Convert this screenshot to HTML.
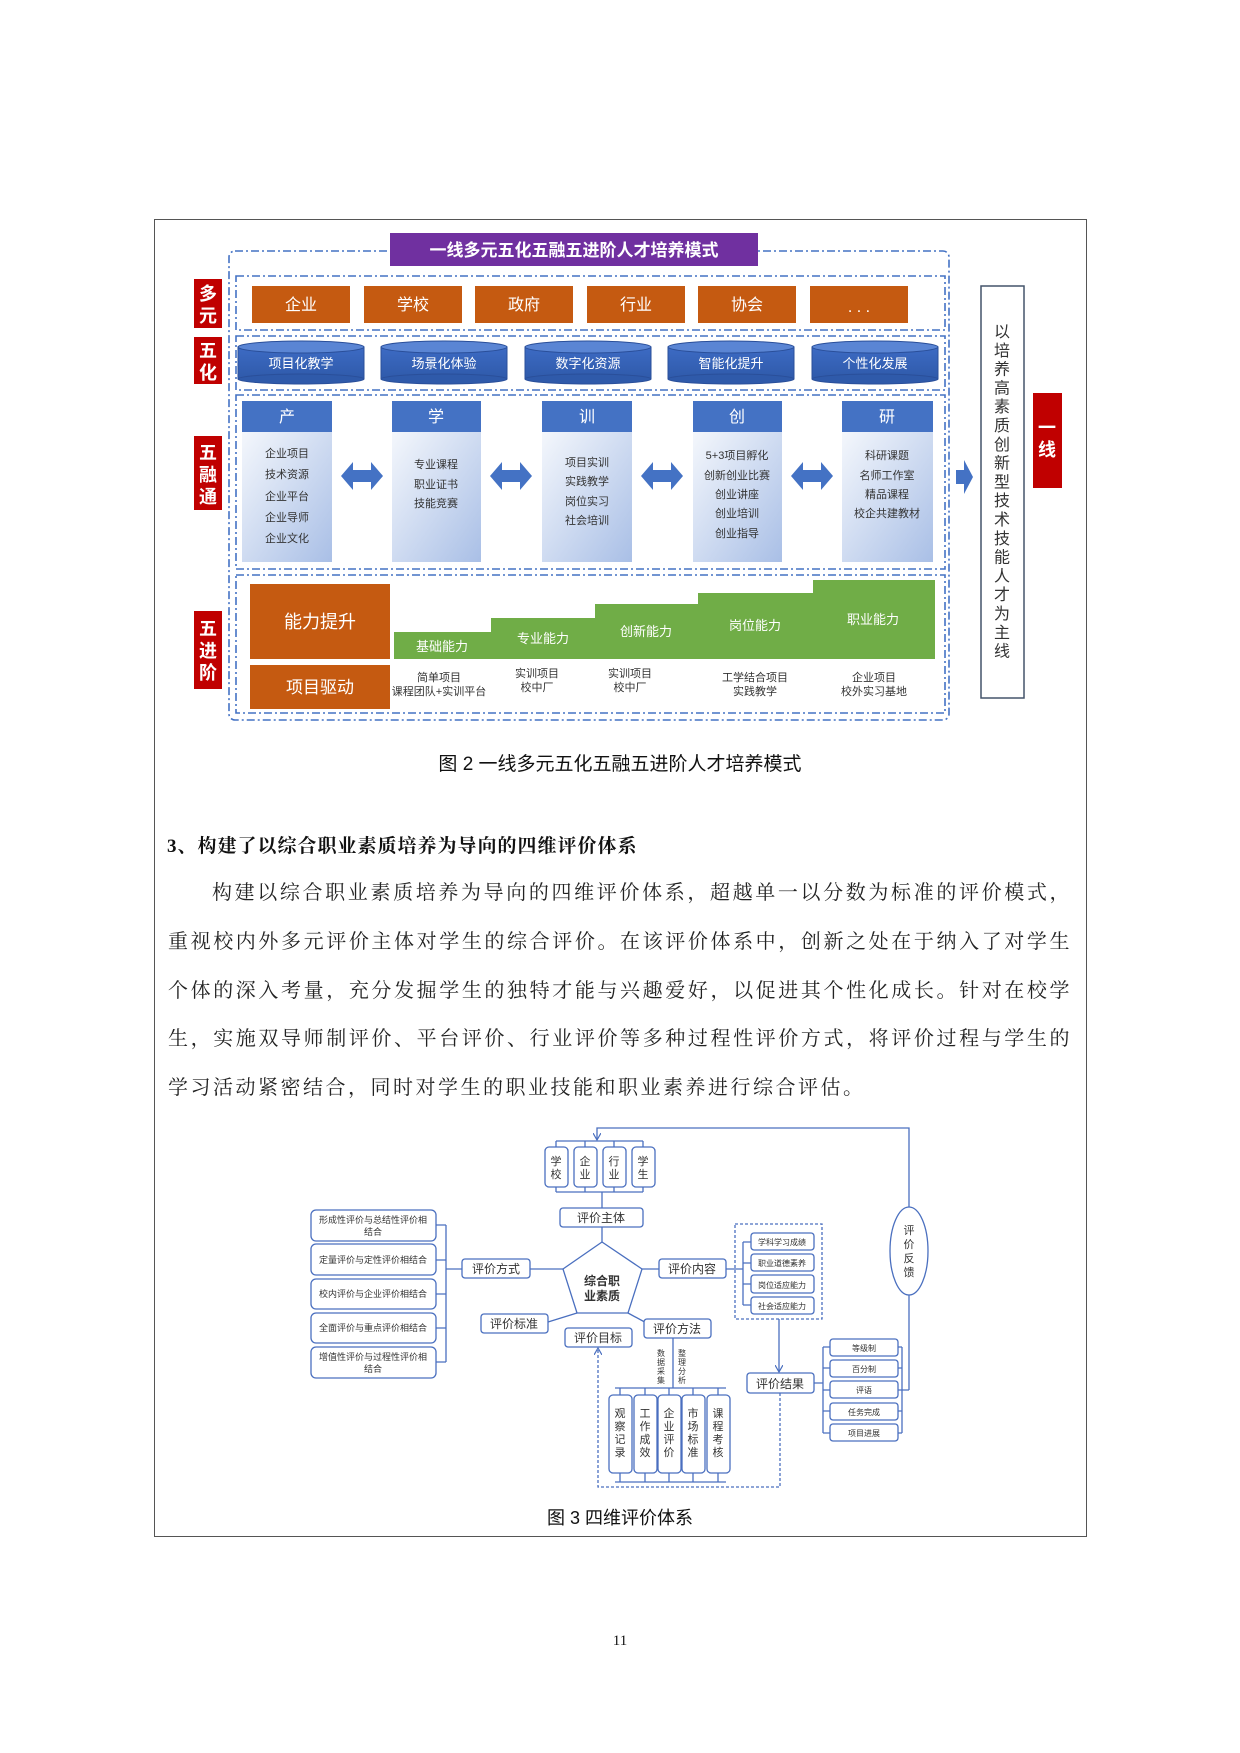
<!DOCTYPE html>
<html><head><meta charset="utf-8"><style>
html,body{margin:0;padding:0;background:#fff}
body{width:1240px;height:1753px;position:relative;overflow:hidden}
.ab{position:absolute}
.p{position:absolute;left:168px;width:904px;font-family:"Liberation Serif","Noto Serif CJK SC",serif;font-size:20px;color:#222;text-align:justify;text-align-last:justify;white-space:nowrap;line-height:24px}
svg text{font-family:"Liberation Sans","Noto Sans CJK SC",sans-serif}
</style></head><body>
<div class="ab" style="left:154px;top:219px;width:931px;height:1316px;border:1.5px solid #555"></div>

<svg class="ab" style="left:0;top:0" width="1240" height="1753" viewBox="0 0 1240 1753">
<defs>
<linearGradient id="cb" x1="0" y1="0" x2="1" y2="1"><stop offset="0" stop-color="#f4f7fc"/><stop offset="1" stop-color="#a9bfe6"/></linearGradient>
<linearGradient id="cy" x1="0" y1="0" x2="0" y2="1"><stop offset="0" stop-color="#3d6bc4"/><stop offset="1" stop-color="#2f5aaa"/></linearGradient>
<marker id="ar" markerWidth="8" markerHeight="8" refX="7" refY="4" orient="auto" markerUnits="userSpaceOnUse"><path d="M0,0 L7,4 L0,8" fill="none" stroke="#4a6fbf" stroke-width="1.2"/></marker>
</defs>
<!-- FIG 2 -->
<g fill="none" stroke="#4472c4" stroke-width="1.6" stroke-dasharray="8 3 2 3">
<rect x="229" y="251" width="720" height="469" rx="6"/>
<rect x="236" y="276" width="709" height="54"/>
<rect x="236" y="336" width="709" height="54"/>
<rect x="236" y="395" width="709" height="174"/>
<rect x="236" y="575" width="709" height="138"/>
</g>
<rect x="390" y="233" width="368" height="33" fill="#7030a0"/>
<text x="574" y="256" fill="#fff" font-size="17" font-weight="bold" text-anchor="middle">一线多元五化五融五进阶人才培养模式</text>
<g fill="#c00000">
<rect x="194" y="279" width="28" height="49"/><rect x="194" y="337" width="28" height="47"/>
<rect x="194" y="436" width="28" height="74"/><rect x="194" y="611" width="28" height="78"/>
<rect x="1033" y="393" width="29" height="95"/>
</g>
<g fill="#fff" font-size="18" font-weight="bold" text-anchor="middle">
<text x="208" y="300">多</text><text x="208" y="322">元</text>
<text x="208" y="357">五</text><text x="208" y="379">化</text>
<text x="208" y="459">五</text><text x="208" y="481">融</text><text x="208" y="503">通</text>
<text x="208" y="635">五</text><text x="208" y="657">进</text><text x="208" y="679">阶</text>
<text x="1047" y="434">一</text><text x="1047" y="456">线</text>
</g>
<g fill="#c55a11">
<rect x="252" y="286" width="98" height="37"/><rect x="364" y="286" width="98" height="37"/><rect x="475" y="286" width="98" height="37"/>
<rect x="587" y="286" width="98" height="37"/><rect x="698" y="286" width="98" height="37"/><rect x="810" y="286" width="98" height="37"/>
<rect x="250" y="584" width="140" height="75"/><rect x="250" y="665" width="140" height="44"/>
</g>
<g fill="#fff" font-size="16" text-anchor="middle">
<text x="301" y="310">企业</text><text x="413" y="310">学校</text><text x="524" y="310">政府</text><text x="636" y="310">行业</text><text x="747" y="310">协会</text><text x="859" y="312">. . .</text>
<text x="320" y="628" font-size="18">能力提升</text><text x="320" y="693" font-size="17">项目驱动</text>
</g>
<g stroke="#2a4f9a" stroke-width="1">
<g><rect x="238" y="347" width="126" height="32" fill="url(#cy)"/><ellipse cx="301" cy="379" rx="63" ry="5" fill="#2f5aaa"/><ellipse cx="301" cy="347" rx="63" ry="6" fill="#5a85d4"/></g>
<g><rect x="381" y="347" width="126" height="32" fill="url(#cy)"/><ellipse cx="444" cy="379" rx="63" ry="5" fill="#2f5aaa"/><ellipse cx="444" cy="347" rx="63" ry="6" fill="#5a85d4"/></g>
<g><rect x="525" y="347" width="126" height="32" fill="url(#cy)"/><ellipse cx="588" cy="379" rx="63" ry="5" fill="#2f5aaa"/><ellipse cx="588" cy="347" rx="63" ry="6" fill="#5a85d4"/></g>
<g><rect x="668" y="347" width="126" height="32" fill="url(#cy)"/><ellipse cx="731" cy="379" rx="63" ry="5" fill="#2f5aaa"/><ellipse cx="731" cy="347" rx="63" ry="6" fill="#5a85d4"/></g>
<g><rect x="812" y="347" width="126" height="32" fill="url(#cy)"/><ellipse cx="875" cy="379" rx="63" ry="5" fill="#2f5aaa"/><ellipse cx="875" cy="347" rx="63" ry="6" fill="#5a85d4"/></g>
</g>
<g fill="#fff" font-size="13" text-anchor="middle">
<text x="301" y="368">项目化教学</text><text x="444" y="368">场景化体验</text><text x="588" y="368">数字化资源</text><text x="731" y="368">智能化提升</text><text x="875" y="368">个性化发展</text>
</g>
<g>
<rect x="242" y="432" width="90" height="130" fill="url(#cb)"/><rect x="242" y="401" width="90" height="31" fill="#4472c4"/>
<rect x="392" y="432" width="89" height="130" fill="url(#cb)"/><rect x="392" y="401" width="89" height="31" fill="#4472c4"/>
<rect x="542" y="432" width="90" height="130" fill="url(#cb)"/><rect x="542" y="401" width="90" height="31" fill="#4472c4"/>
<rect x="693" y="432" width="89" height="130" fill="url(#cb)"/><rect x="693" y="401" width="89" height="31" fill="#4472c4"/>
<rect x="842" y="432" width="91" height="130" fill="url(#cb)"/><rect x="842" y="401" width="91" height="31" fill="#4472c4"/>
</g>
<g fill="#fff" font-size="16" text-anchor="middle">
<text x="287" y="422">产</text><text x="436" y="422">学</text><text x="587" y="422">训</text><text x="737" y="422">创</text><text x="887" y="422">研</text>
</g>
<g fill="#333" font-size="11" text-anchor="middle">
<text x="287" y="457">企业项目</text><text x="287" y="478">技术资源</text><text x="287" y="500">企业平台</text><text x="287" y="521">企业导师</text><text x="287" y="542">企业文化</text>
<text x="436" y="468">专业课程</text><text x="436" y="488">职业证书</text><text x="436" y="507">技能竞赛</text>
<text x="587" y="466">项目实训</text><text x="587" y="485">实践教学</text><text x="587" y="505">岗位实习</text><text x="587" y="524">社会培训</text>
<text x="737" y="459">5+3项目孵化</text><text x="737" y="479">创新创业比赛</text><text x="737" y="498">创业讲座</text><text x="737" y="517">创业培训</text><text x="737" y="537">创业指导</text>
<text x="887" y="459">科研课题</text><text x="887" y="479">名师工作室</text><text x="887" y="498">精品课程</text><text x="887" y="517">校企共建教材</text>
</g>
<g fill="#4472c4">
<path d="M341,476 l12,-14 v8 h18 v-8 l12,14 l-12,14 v-8 h-18 v8z"/>
<path d="M490,476 l12,-14 v8 h18 v-8 l12,14 l-12,14 v-8 h-18 v8z"/>
<path d="M641,476 l12,-14 v8 h18 v-8 l12,14 l-12,14 v-8 h-18 v8z"/>
<path d="M791,476 l12,-14 v8 h18 v-8 l12,14 l-12,14 v-8 h-18 v8z"/>
<path d="M956,470 h8 v-10 l9,17 l-9,17 v-10 h-8z"/>
</g>
<path d="M394,659 V632 H491 V618 H595 V604 H698 V593 H813 V580 H935 V659Z" fill="#70ad47"/>
<g fill="#fff" font-size="13" text-anchor="middle">
<text x="442" y="651">基础能力</text><text x="543" y="643">专业能力</text><text x="646" y="636">创新能力</text><text x="755" y="630">岗位能力</text><text x="873" y="624">职业能力</text>
</g>
<g fill="#333" font-size="11" text-anchor="middle">
<text x="439" y="681">简单项目</text><text x="439" y="695">课程团队+实训平台</text>
<text x="537" y="677">实训项目</text><text x="537" y="691">校中厂</text>
<text x="630" y="677">实训项目</text><text x="630" y="691">校中厂</text>
<text x="755" y="681">工学结合项目</text><text x="755" y="695">实践教学</text>
<text x="874" y="681">企业项目</text><text x="874" y="695">校外实习基地</text>
</g>
<rect x="981" y="286" width="43" height="412" fill="#fff" stroke="#44546a" stroke-width="1.5"/>
<text x="1002" y="337" fill="#333" font-size="16" text-anchor="middle"><tspan x="1002">以</tspan><tspan x="1002" dy="18.8">培</tspan><tspan x="1002" dy="18.8">养</tspan><tspan x="1002" dy="18.8">高</tspan><tspan x="1002" dy="18.8">素</tspan><tspan x="1002" dy="18.8">质</tspan><tspan x="1002" dy="18.8">创</tspan><tspan x="1002" dy="18.8">新</tspan><tspan x="1002" dy="18.8">型</tspan><tspan x="1002" dy="18.8">技</tspan><tspan x="1002" dy="18.8">术</tspan><tspan x="1002" dy="18.8">技</tspan><tspan x="1002" dy="18.8">能</tspan><tspan x="1002" dy="18.8">人</tspan><tspan x="1002" dy="18.8">才</tspan><tspan x="1002" dy="18.8">为</tspan><tspan x="1002" dy="18.8">主</tspan><tspan x="1002" dy="18.8">线</tspan></text>
<text x="620" y="770" fill="#111" font-size="19" text-anchor="middle">图 2 一线多元五化五融五进阶人才培养模式</text>

<!-- FIG 3 -->
<g fill="none" stroke="#4a6fbf" stroke-width="1.3">
<path d="M909,1207 V1128 H597 V1140" marker-end="url(#ar)"/>
<path d="M556,1141 H643 M556,1192 H643 M556,1141 v6 M585,1141 v6 M614,1141 v6 M643,1141 v6 M556,1192 v-5 M585,1192 v-5 M614,1192 v-5 M643,1192 v-5"/>
<path d="M602,1192 V1208 M602,1227 V1242"/>
<path d="M563,1269 H530 M462,1269 H446 M446,1225 V1362 M436,1225 H446 M436,1260 H446 M436,1294 H446 M436,1328 H446 M436,1362 H446"/>
<path d="M642,1269 H659 M726,1269 H743 M743,1242 V1305 M743,1242 H751 M743,1263 H751 M743,1284 H751 M743,1305 H751"/>
<path d="M577,1313 L548,1322 M628,1313 L652,1326"/>
<path d="M673,1338 V1388 M615,1388 H726 M615,1482 H726 M620,1388 v7 M645,1388 v7 M669,1388 v7 M693,1388 v7 M718,1388 v7 M620,1482 v-9 M645,1482 v-9 M669,1482 v-9 M693,1482 v-9 M718,1482 v-9"/>
<path d="M779,1319 V1372" marker-end="url(#ar)"/>
<path d="M814,1383 H823 M823,1347 V1433 M823,1347 H830 M823,1368 H830 M823,1390 H830 M823,1411 H830 M823,1433 H830"/>
<path d="M898,1347 H902 M898,1368 H902 M898,1390 H909 M898,1411 H902 M898,1433 H902 M902,1347 V1433 M909,1295 V1390"/>
<path d="M780,1393 V1487 H598 V1348" stroke-dasharray="3 2" marker-end="url(#ar)"/>
<rect x="735" y="1224" width="87" height="95" stroke-dasharray="3 2"/>
</g>
<g fill="#fff" stroke="#4a6fbf" stroke-width="1.3">
<rect x="545" y="1147" width="23" height="40" rx="4"/><rect x="574" y="1147" width="23" height="40" rx="4"/><rect x="603" y="1147" width="23" height="40" rx="4"/><rect x="632" y="1147" width="23" height="40" rx="4"/>
<rect x="560" y="1208" width="83" height="19" rx="3"/>
<path d="M602,1242 L642,1269 L628,1313 L577,1313 L563,1269Z"/>
<rect x="462" y="1259" width="68" height="19" rx="3"/><rect x="659" y="1259" width="67" height="19" rx="3"/>
<rect x="481" y="1314" width="67" height="19" rx="3"/><rect x="565" y="1328" width="67" height="19" rx="3"/><rect x="644" y="1319" width="67" height="19" rx="3"/>
<rect x="747" y="1373" width="67" height="20" rx="3"/>
<rect x="311" y="1210" width="125" height="31" rx="5"/><rect x="311" y="1244" width="125" height="31" rx="5"/><rect x="311" y="1279" width="125" height="30" rx="5"/><rect x="311" y="1313" width="125" height="30" rx="5"/><rect x="311" y="1347" width="125" height="31" rx="5"/>
<rect x="751" y="1233" width="63" height="17" rx="3"/><rect x="751" y="1254" width="63" height="17" rx="3"/><rect x="751" y="1275" width="63" height="18" rx="3"/><rect x="751" y="1297" width="63" height="17" rx="3"/>
<rect x="830" y="1339" width="68" height="17" rx="3"/><rect x="830" y="1360" width="68" height="17" rx="3"/><rect x="830" y="1381" width="68" height="17" rx="3"/><rect x="830" y="1403" width="68" height="17" rx="3"/><rect x="830" y="1424" width="68" height="17" rx="3"/>
<rect x="609" y="1395" width="23" height="78" rx="4"/><rect x="634" y="1395" width="23" height="78" rx="4"/><rect x="658" y="1395" width="23" height="78" rx="4"/><rect x="682" y="1395" width="23" height="78" rx="4"/><rect x="707" y="1395" width="23" height="78" rx="4"/>
<ellipse cx="909" cy="1251" rx="19" ry="44"/>
</g>
<g fill="#333" font-size="11" text-anchor="middle">
<text x="556" y="1165">学</text><text x="556" y="1178">校</text><text x="585" y="1165">企</text><text x="585" y="1178">业</text><text x="614" y="1165">行</text><text x="614" y="1178">业</text><text x="643" y="1165">学</text><text x="643" y="1178">生</text>
<text x="601" y="1222" font-size="12">评价主体</text>
<text x="496" y="1273" font-size="12">评价方式</text><text x="692" y="1273" font-size="12">评价内容</text>
<text x="514" y="1328" font-size="12">评价标准</text><text x="598" y="1342" font-size="12">评价目标</text><text x="677" y="1333" font-size="12">评价方法</text>
<text x="780" y="1388" font-size="12">评价结果</text>
<text x="602" y="1285" font-size="12" font-weight="bold">综合职</text><text x="602" y="1300" font-size="12" font-weight="bold">业素质</text>
<g font-size="9">
<text x="373" y="1223">形成性评价与总结性评价相</text><text x="373" y="1235">结合</text>
<text x="373" y="1263">定量评价与定性评价相结合</text>
<text x="373" y="1297">校内评价与企业评价相结合</text>
<text x="373" y="1331">全面评价与重点评价相结合</text>
<text x="373" y="1360">增值性评价与过程性评价相</text><text x="373" y="1372">结合</text>
<text x="782" y="1245" font-size="8">学科学习成绩</text><text x="782" y="1266" font-size="8">职业道德素养</text><text x="782" y="1288" font-size="8">岗位适应能力</text><text x="782" y="1309" font-size="8">社会适应能力</text>
<text x="864" y="1351" font-size="8">等级制</text><text x="864" y="1372" font-size="8">百分制</text><text x="864" y="1393" font-size="8">评语</text><text x="864" y="1415" font-size="8">任务完成</text><text x="864" y="1436" font-size="8">项目进展</text>
<text x="661" y="1356" font-size="8">数</text><text x="661" y="1365" font-size="8">据</text><text x="661" y="1374" font-size="8">采</text><text x="661" y="1383" font-size="8">集</text>
<text x="682" y="1356" font-size="8">整</text><text x="682" y="1365" font-size="8">理</text><text x="682" y="1374" font-size="8">分</text><text x="682" y="1383" font-size="8">析</text>
</g>
<g font-size="11">
<text x="620" y="1417">观</text><text x="620" y="1430">察</text><text x="620" y="1443">记</text><text x="620" y="1456">录</text>
<text x="645" y="1417">工</text><text x="645" y="1430">作</text><text x="645" y="1443">成</text><text x="645" y="1456">效</text>
<text x="669" y="1417">企</text><text x="669" y="1430">业</text><text x="669" y="1443">评</text><text x="669" y="1456">价</text>
<text x="693" y="1417">市</text><text x="693" y="1430">场</text><text x="693" y="1443">标</text><text x="693" y="1456">准</text>
<text x="718" y="1417">课</text><text x="718" y="1430">程</text><text x="718" y="1443">考</text><text x="718" y="1456">核</text>
<text x="909" y="1234">评</text><text x="909" y="1248">价</text><text x="909" y="1262">反</text><text x="909" y="1276">馈</text>
</g>
</g>
<text x="620" y="1524" fill="#111" font-size="18" text-anchor="middle">图 3 四维评价体系</text>
<text x="620" y="1645" fill="#111" font-size="15" text-anchor="middle" style="font-family:'Liberation Serif',serif">11</text>
</svg>

<div class="ab" style="left:167px;top:831px;font-family:'Liberation Serif','Noto Serif CJK SC',serif;font-size:19px;font-weight:bold;color:#111;letter-spacing:1px">3、构建了以综合职业素质培养为导向的四维评价体系</div>
<div class="p" style="top:881px;left:212px;width:860px;letter-spacing:2.5px">构建以综合职业素质培养为导向的四维评价体系，超越单一以分数为标准的评价模式，</div>
<div class="p" style="top:930px;letter-spacing:2.5px">重视校内外多元评价主体对学生的综合评价。在该评价体系中，创新之处在于纳入了对学生</div>
<div class="p" style="top:979px;letter-spacing:2.5px">个体的深入考量，充分发掘学生的独特才能与兴趣爱好，以促进其个性化成长。针对在校学</div>
<div class="p" style="top:1027px;letter-spacing:2.5px">生，实施双导师制评价、平台评价、行业评价等多种过程性评价方式，将评价过程与学生的</div>
<div class="p" style="top:1076px;text-align:left;text-align-last:left;letter-spacing:2.5px">学习活动紧密结合，同时对学生的职业技能和职业素养进行综合评估。</div>
</body></html>
